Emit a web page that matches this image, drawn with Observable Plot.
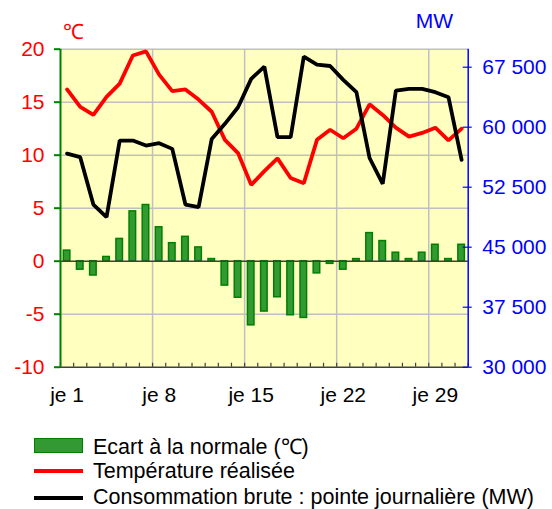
<!DOCTYPE html>
<html>
<head>
<meta charset="utf-8">
<script src="https://cdn.jsdelivr.net/npm/d3@7"></script>
<script src="https://cdn.jsdelivr.net/npm/@observablehq/plot@0.6"></script>
<style>
  html, body { margin: 0; padding: 0; background: #ffffff; }
  body { width: 552px; height: 509px; overflow: hidden; font-family: "Liberation Sans", Arial, sans-serif; }
  svg { display: block; }
  #legend { margin-top: 12px; padding-left: 34px; font-size: 21.5px; color: #000; }
  .row { display: flex; align-items: center; height: 26.3px; white-space: nowrap; }
  .sw { width: 49px; margin-right: 10px; box-sizing: border-box; }
  .sw.bar { height: 15px; background: #339933; border: 1.5px solid #008000; }
  .sw.red { height: 4px; background: #ff0000; }
  .sw.black { height: 4px; background: #000000; }
</style>
</head>
<body>
<div id="chart"></div>
<div id="legend"></div>
<script>
// ---- data ----
const days = [1,2,3,4,5,6,7,8,9,10,11,12,13,14,15,16,17,18,19,20,21,22,23,24,25,26,27,28,29,30,31];
const ecart = [1.0,-0.8,-1.35,0.4,2.1,4.7,5.3,3.2,1.7,2.3,1.3,0.2,-2.3,-3.45,-6.05,-4.75,-3.4,-5.1,-5.35,-1.15,-0.25,-0.8,0.2,2.65,1.9,0.8,0.2,0.8,1.55,0.2,1.55];
const temperature = [16.2,14.55,13.8,15.5,16.75,19.4,19.8,17.6,16.05,16.2,15.25,14.1,11.45,10.2,7.2,8.5,9.7,7.85,7.35,11.45,12.4,11.6,12.5,14.8,13.8,12.6,11.75,12.1,12.6,11.4,12.5];
const consommation = [56700,56250,50330,48750,58330,58330,57710,58000,57290,50330,50000,58540,60420,62500,66040,67580,58750,58750,68830,67830,67650,65920,64380,56150,52920,64580,64790,64790,64380,63750,55920];
const labelDays = [1,8,15,22,29];
const tempTicks = [-10,-5,0,5,10,15,20];
const mwTicks = [30000,37500,45000,52500,60000,67500];
const tempDomain = [-10,20];
const mwDomain = [30000,69750];
const seriesNames = ["Ecart à la normale (℃)", "Température réalisée", "Consommation brute : pointe journalière (MW)"];
const unitLeft = "℃";
const unitRight = "MW";

// ---- derived ----
const rows = days.map((d,i) => ({day: d, ecart: ecart[i], temp: temperature[i], mw: consommation[i]}));
const mwToC = d3.scaleLinear().domain(mwDomain).range(tempDomain);
const xDomain = [d3.min(days) - 0.5, d3.max(days) + 0.5];
const bounds = days.map(d => d - 0.5).concat([d3.max(days) + 0.5]);
const weekBounds = labelDays.slice(1).map(d => d - 0.5);
const fmtMW = v => String(Math.round(v / 100) * 100).replace(/\B(?=(\d{3})+(?!\d))/g, " ");

const chart = Plot.plot({
  width: 552,
  height: 420,
  marginLeft: 60,
  marginRight: 84.3,
  marginTop: 48.7,
  marginBottom: 53.3,
  style: {fontFamily: "'Liberation Sans', Arial, sans-serif", fontSize: "21px", background: "#ffffff", overflow: "visible"},
  x: {type: "linear", domain: xDomain, axis: null},
  y: {domain: tempDomain, axis: null},
  marks: [
    Plot.frame({fill: "#ffffc0", stroke: null}),
    Plot.ruleY(tempTicks.filter(t => t !== 0 && t !== tempDomain[0]), {stroke: "#c0c0c0", strokeWidth: 1.5}),
    Plot.ruleX(weekBounds, {stroke: "#c0c0c0", strokeWidth: 1.5}),
    Plot.rectY(rows, {x1: d => d.day - 0.5, x2: d => d.day + 0.5, y: "ecart", insetLeft: 3.3, insetRight: 3.3, fill: "#339933", stroke: "#008000", strokeWidth: 1.5}),
    Plot.ruleY([0], {stroke: "#404040", strokeWidth: 1.5}),
    Plot.ruleY([tempDomain[0]], {stroke: "#404040", strokeWidth: 1.5}),
    Plot.axisX({ticks: bounds, tickSize: 4, dy: -4, stroke: "#404040", strokeWidth: 1.2, tickFormat: () => "", label: null}),
    Plot.axisX({ticks: labelDays, tickSize: 0, tickPadding: 20, tickFormat: d => "je " + d, fill: "#000000", label: null}),
    Plot.line(rows, {x: "day", y: "temp", stroke: "#ff0000", strokeWidth: 3.8, strokeLinejoin: "miter"}),
    Plot.line(rows, {x: "day", y: d => mwToC(d.mw), stroke: "#000000", strokeWidth: 3.8, strokeLinejoin: "miter"}),
    // left axis
    Plot.ruleX([xDomain[0]], {stroke: "#008000", strokeWidth: 2}),
    Plot.axisY({anchor: "left", ticks: tempTicks, tickSize: 6, stroke: "#008000", strokeWidth: 2, tickFormat: () => "", label: null}),
    Plot.axisY({anchor: "left", ticks: tempTicks, tickSize: 0, tickPadding: 16, fill: "#ff0000", tickFormat: d => String(d), label: null}),
    // right axis
    Plot.ruleX([xDomain[1]], {stroke: "#0000ff", strokeWidth: 1.5}),
    Plot.axisY({anchor: "right", ticks: mwTicks.map(mwToC), tickSize: 9, dx: -6, stroke: "#0000ff", strokeWidth: 1.2, tickFormat: () => "", label: null}),
    Plot.axisY({anchor: "right", ticks: mwTicks.map(mwToC), tickSize: 0, tickPadding: 14, fill: "#0000ff", tickFormat: d => fmtMW(mwToC.invert(d)), label: null}),
    // units
    Plot.text([unitLeft], {frameAnchor: "top-left", dx: 2, dy: -25, textAnchor: "start", fill: "#ff0000"}),
    Plot.text([unitRight], {frameAnchor: "top-right", dx: -15, dy: -36, textAnchor: "end", fill: "#0000ff"})
  ]
});
document.getElementById("chart").appendChild(chart);

const legend = document.getElementById("legend");
const cls = ["bar", "red", "black"];
seriesNames.forEach((name, i) => {
  const row = document.createElement("div");
  row.className = "row";
  const sw = document.createElement("div");
  sw.className = "sw " + cls[i];
  const label = document.createElement("span");
  label.textContent = name;
  row.appendChild(sw);
  row.appendChild(label);
  legend.appendChild(row);
});
</script>
</body>
</html>
